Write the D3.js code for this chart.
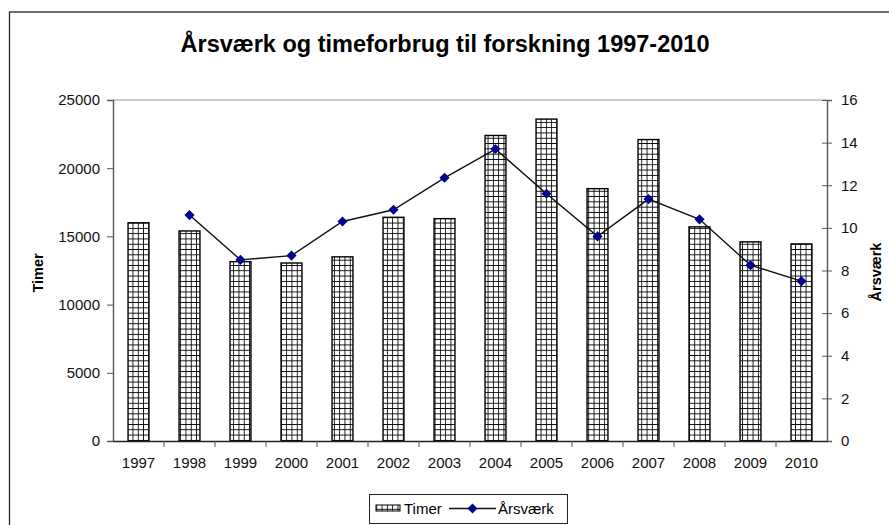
<!DOCTYPE html>
<html>
<head>
<meta charset="utf-8">
<script src="https://cdn.jsdelivr.net/npm/d3@7"></script>
<style>
body { margin: 0; background: #fff; }
svg text { font-family: "Liberation Sans", Arial, sans-serif; }
</style>
</head>
<body>
<svg id="chart"></svg>
<script>
// data
var years = ["1997","1998","1999","2000","2001","2002","2003","2004","2005","2006","2007","2008","2009","2010"];
var timer = [16000, 15400, 13150, 13050, 13500, 16400, 16300, 22400, 23600, 18500, 22100, 15700, 14600, 14450];
var aarsvaerk = [null, 10.6, 8.5, 8.7, 10.3, 10.85, 12.35, 13.7, 11.6, 9.6, 11.35, 10.4, 8.25, 7.5];
var leftTicks = [0, 5000, 10000, 15000, 20000, 25000];
var rightTicks = [0, 2, 4, 6, 8, 10, 12, 14, 16];

var W = 889, H = 525;
var svg = d3.select("svg#chart").attr("width", W).attr("height", H);

// plot area
var pLeft = 113, pRight = 827, pTop = 100, pBottom = 441;

var x = d3.scaleBand().domain(years).range([pLeft, pRight]).paddingInner(0.59).paddingOuter(0.295);
var band = d3.scaleBand().domain(years).range([pLeft, pRight]);
var yL = d3.scaleLinear().domain([0, 25000]).range([pBottom, pTop]);
var yR = d3.scaleLinear().domain([0, 16]).range([pBottom, pTop]);

// pattern for bars
var defs = svg.append("defs");
var pat = defs.append("pattern").attr("id", "grid")
    .attr("patternUnits", "userSpaceOnUse")
    .attr("width", 5.3).attr("height", 5.3);
pat.append("rect").attr("width", 5.3).attr("height", 5.3).attr("fill", "#fff");
pat.append("path").attr("d", "M0,0H5.3M0,0V5.3").attr("stroke", "#000").attr("stroke-width", 1.7);

// outer frame
svg.append("rect").attr("x", 9.5).attr("y", 12).attr("width", 890).attr("height", 530)
    .attr("fill", "none").attr("stroke", "#222").attr("stroke-width", 1.3);

svg.append("text").attr("x", 445).attr("y", 52).attr("text-anchor", "middle")
    .attr("font-size", 23.5).attr("font-weight", "bold").text("Årsværk og timeforbrug til forskning 1997-2010");

// top gridline
svg.append("line").attr("x1", pLeft).attr("x2", pRight).attr("y1", yL(25000)).attr("y2", yL(25000))
    .attr("stroke", "#999").attr("stroke-width", 1.2);

// bars
svg.append("g").selectAll("rect.bar")
    .data(years)
    .enter()
    .append("rect")
    .attr("class", "bar")
    .attr("x", function(d) { return x(d); })
    .attr("y", function(d, i) { return yL(timer[i]); })
    .attr("width", x.bandwidth())
    .attr("height", function(d, i) { return pBottom - yL(timer[i]); })
    .attr("fill", "url(#grid)")
    .attr("stroke", "#000").attr("stroke-width", 1.4);

// axes
var axL = svg.append("g").attr("transform", "translate(" + pLeft + ",0)")
    .call(d3.axisLeft(yL).tickValues(leftTicks).tickSize(6).tickPadding(7).tickFormat(d3.format("d")));
var axR = svg.append("g").attr("transform", "translate(" + pRight + ",0)")
    .call(d3.axisRight(yR).tickValues(rightTicks).tickSize(5).tickPadding(9));
axR.selectAll(".tick line").attr("x1", -5);
var axB = svg.append("g").attr("transform", "translate(0," + pBottom + ")")
    .call(d3.axisBottom(band).tickSize(0).tickPadding(16));
// category separators
svg.append("g").selectAll("line.sep")
    .data(years.slice(1))
    .enter()
    .append("line")
    .attr("x1", function(d) { return band(d); })
    .attr("x2", function(d) { return band(d); })
    .attr("y1", pBottom).attr("y2", pBottom + 6)
    .attr("stroke", "#555");

[axL, axR, axB].forEach(function(a) {
    a.selectAll("path.domain").attr("stroke", "#555").attr("stroke-width", 1.4);
    a.selectAll(".tick line").attr("stroke", "#555");
    a.selectAll("text").attr("font-size", 15).attr("fill", "#111")
        .style("font-family", '"Liberation Sans", Arial, sans-serif');
});
axB.select("path.domain").attr("stroke", "#222");

// line series
var pts = years.map(function(d, i) { return { y: d, v: aarsvaerk[i] }; })
    .filter(function(d) { return d.v !== null; });
var line = d3.line()
    .x(function(d) { return band(d.y) + band.bandwidth() / 2; })
    .y(function(d) { return yR(d.v); });
svg.append("path").datum(pts).attr("d", line)
    .attr("fill", "none").attr("stroke", "#111").attr("stroke-width", 1.4);
var diamond = d3.symbol().type(d3.symbolDiamond2).size(65);
svg.append("g").selectAll("path.pt")
    .data(pts)
    .enter()
    .append("path")
    .attr("class", "pt")
    .attr("d", diamond)
    .attr("transform", function(d) { return "translate(" + (band(d.y) + band.bandwidth() / 2) + "," + yR(d.v) + ")"; })
    .attr("fill", "#00008b");

// axis titles
svg.append("text").attr("transform", "translate(43,273) rotate(-90)")
    .attr("text-anchor", "middle").attr("font-size", 14.5).attr("font-weight", "bold").text("Timer");
svg.append("text").attr("transform", "translate(881,272) rotate(-90)")
    .attr("text-anchor", "middle").attr("font-size", 14.5).attr("font-weight", "bold").text("Årsværk");

// legend
var lg = svg.append("g");
lg.append("rect").attr("x", 369.5).attr("y", 494.5).attr("width", 198).attr("height", 29)
    .attr("fill", "#fff").attr("stroke", "#222");
lg.append("rect").attr("x", 376).attr("y", 505).attr("width", 24).attr("height", 6)
    .attr("fill", "url(#grid)").attr("stroke", "#000");
lg.append("text").attr("x", 404).attr("y", 514).attr("font-size", 15).text("Timer");
lg.append("line").attr("x1", 449).attr("x2", 496).attr("y1", 508.5).attr("y2", 508.5)
    .attr("stroke", "#111").attr("stroke-width", 1.4);
lg.append("path").attr("d", diamond).attr("transform", "translate(472.5,508.5)").attr("fill", "#00008b");
lg.append("text").attr("x", 498).attr("y", 514).attr("font-size", 15).text("Årsværk");
</script>
</body>
</html>
